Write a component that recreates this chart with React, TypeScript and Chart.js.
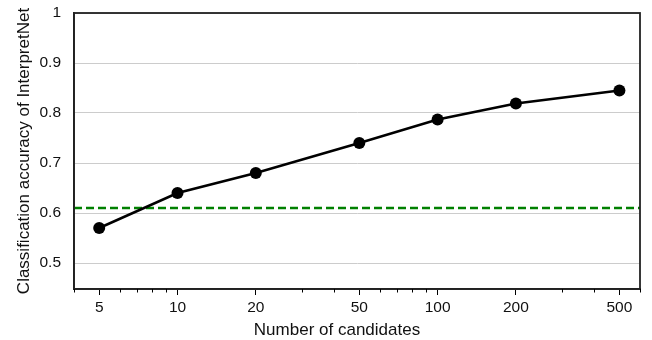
import React, { useEffect, useRef } from "react";
import { Chart, registerables } from "chart.js";
Chart.register(...registerables);

const candidates = [5, 10, 20, 50, 100, 200, 500];
const accuracy = [0.57, 0.64, 0.68, 0.74, 0.787, 0.819, 0.845];
const baselineAccuracy = 0.61;
const xMin = 4;
const xMax = 600;
const xMajorTicks = [5, 10, 20, 50, 100, 200, 500];
const xMinorTicks = [4, 6, 7, 8, 9, 30, 40, 60, 70, 80, 90, 300, 400, 600];
const yMin = 0.448;
const yMax = 1;
const yTicks = [0.5, 0.6, 0.7, 0.8, 0.9, 1];
const xTitle = "Number of candidates";
const yTitle = "Classification accuracy of InterpretNet";

const FONT = "'Liberation Sans', Arial, Helvetica, sans-serif";
const TEXT = "#111";

const framePlugin = {
  id: "frame",
  afterDatasetsDraw(chart: any) {
    const { ctx, chartArea: a, scales } = chart;
    const x = scales.x;
    ctx.save();
    ctx.strokeStyle = "#222";
    ctx.lineWidth = 1.8;
    ctx.strokeRect(a.left, a.top, a.right - a.left, a.bottom - a.top);
    ctx.lineWidth = 1;
    ctx.strokeStyle = "#000";
    ctx.beginPath();
    for (const v of xMinorTicks) {
      const px = Math.round(x.getPixelForValue(v)) + 0.5;
      ctx.moveTo(px, a.bottom);
      ctx.lineTo(px, a.bottom + 3.5);
    }
    ctx.stroke();
    // x-axis title
    ctx.fillStyle = TEXT;
    ctx.font = `17px ${FONT}`;
    ctx.textAlign = "center";
    ctx.textBaseline = "alphabetic";
    ctx.fillText(xTitle, (a.left + a.right) / 2 - 20, chart.height - 5);
    ctx.restore();
  },
};

export default function App() {
  const ref = useRef<HTMLCanvasElement>(null);
  useEffect(() => {
    if (!ref.current) return;
    Chart.defaults.font.family = FONT;
    const chart = new Chart(ref.current, {
      type: "line",
      data: {
        datasets: [
          {
            data: candidates.map((c, i) => ({ x: c, y: accuracy[i] })),
            borderColor: "#000",
            backgroundColor: "#000",
            borderWidth: 2.5,
            pointRadius: 6,
            pointHoverRadius: 6,
            pointBackgroundColor: "#000",
            pointBorderWidth: 0,
            tension: 0,
          },
          {
            data: [
              { x: xMin, y: baselineAccuracy },
              { x: xMax, y: baselineAccuracy },
            ],
            borderColor: "#008000",
            borderWidth: 2.5,
            borderDash: [8, 4],
            pointRadius: 0,
            tension: 0,
          },
        ],
      },
      options: {
        responsive: false,
        animation: false,
        layout: { padding: { top: 13, right: 12, left: 0, bottom: 0 } },
        plugins: { legend: { display: false }, tooltip: { enabled: false } },
        scales: {
          x: {
            type: "logarithmic",
            min: xMin,
            max: xMax,
            afterBuildTicks: (s: any) => {
              s.ticks = xMajorTicks.map((v) => ({ value: v }));
            },
            afterFit: (s: any) => {
              s.height = 51;
              s.paddingLeft = 0;
              s.paddingRight = 0;
            },
            grid: {
              drawOnChartArea: false,
              drawTicks: true,
              tickLength: 6,
              color: "#000",
              lineWidth: 1,
            },
            border: { display: true, color: "#222", width: 1.8 },
            ticks: {
              autoSkip: false,
              maxRotation: 0,
              padding: 3,
              color: TEXT,
              font: { size: 15.5, family: FONT },
              callback: (v: any) => String(v),
            },
            title: { display: false },
          },
          y: {
            type: "linear",
            min: yMin,
            max: yMax,
            afterBuildTicks: (s: any) => {
              s.ticks = yTicks.map((v) => ({ value: v }));
            },
            afterFit: (s: any) => {
              s.width = 74;
              s.paddingTop = 0;
              s.paddingBottom = 0;
            },
            grid: { color: "#cccccc", lineWidth: 1, drawTicks: false },
            border: { display: true, color: "#222", width: 1.8 },
            ticks: {
              padding: 13,
              color: TEXT,
              font: { size: 15.5, family: FONT },
              callback: (v: any) => String(Number(Number(v).toFixed(1))),
            },
            title: {
              display: true,
              text: yTitle,
              color: TEXT,
              font: { size: 17, family: FONT },
              padding: { top: 14.5, bottom: 0 },
            },
          },
        },
      },
      plugins: [framePlugin],
    } as any);
    return () => chart.destroy();
  }, []);
  return (
    <div style={{ position: "fixed", left: 0, top: 0, width: 652, height: 340, background: "#fff" }}>
      <canvas ref={ref} width={652} height={340} />
    </div>
  );
}
